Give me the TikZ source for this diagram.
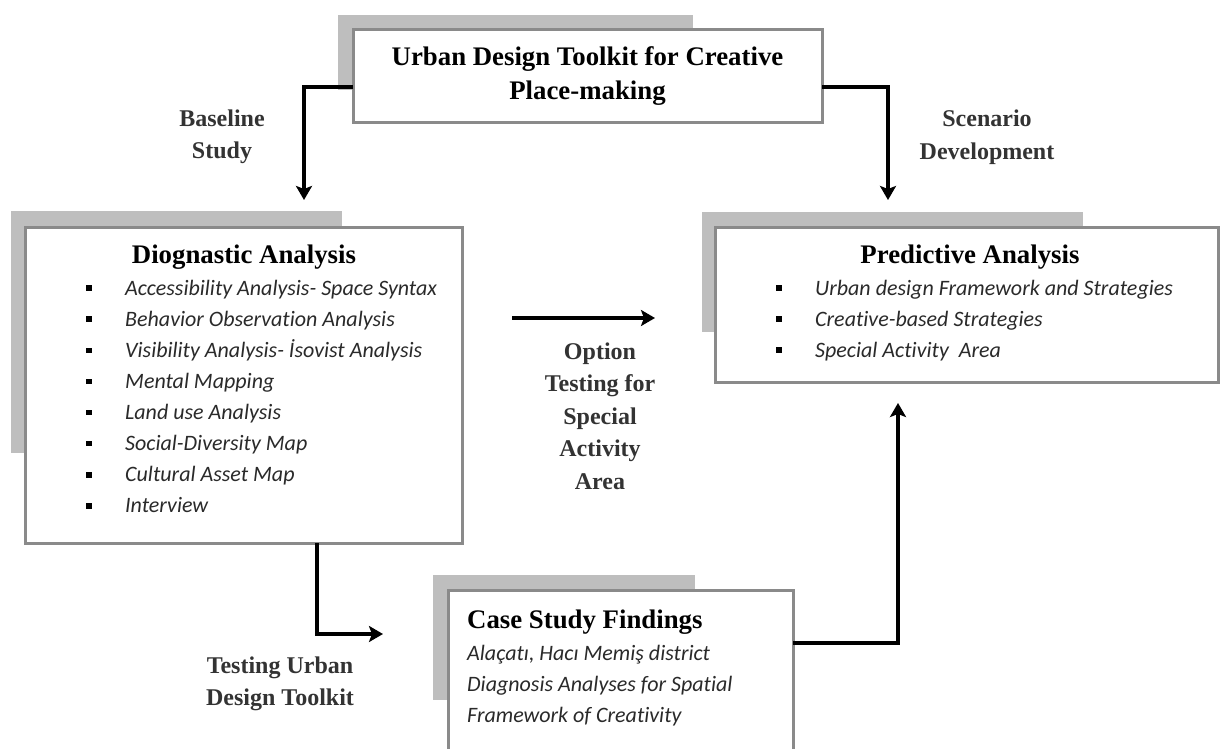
\documentclass[tikz,border=0pt]{standalone}
\usepackage{fontspec}
\setmainfont{Liberation Serif}
\newfontfamily\itemfont[Ligatures={NoCommon,NoContextual,NoRare}]{Carlito}
\usetikzlibrary{arrows.meta}
\definecolor{boxline}{HTML}{8A8A8A}
\definecolor{shade}{HTML}{BEBEBE}
\definecolor{labc}{HTML}{333333}
\definecolor{itemc}{HTML}{2A2A2A}
\begin{document}
\begin{tikzpicture}[x=1pt,y=-1pt,
  box/.style={draw=boxline, line width=3pt, fill=white, inner sep=0pt, outer sep=0pt},
  shadowbox/.style={fill=shade, draw=none, inner sep=0pt, outer sep=0pt},
  ttl/.style={font=\fontsize{26.8}{34}\selectfont\bfseries, text=black, align=center},
  lab/.style={font=\fontsize{24}{32.5}\selectfont\bfseries, text=labc, align=center},
  itm/.style={font=\fontsize{22}{31}\selectfont\itemfont\itshape, text=itemc, anchor=base west, inner sep=0pt},
  bul/.style={fill=black, minimum size=5.5pt, inner sep=0pt, outer sep=0pt},
  arr/.style={-{Stealth[length=14pt,width=16pt,inset=3pt]}, line width=3.2pt, black}]
\useasboundingbox (0,0) rectangle (1221,749);
\clip (0,0) rectangle (1221,749);
\fill[white] (0,0) rectangle (1221,749);

% shadows
\node[shadowbox, minimum width=355pt, minimum height=75pt] (tops) at (515.5,52.5) {};
\node[shadowbox, minimum width=331pt, minimum height=242pt] (diags) at (176.5,332) {};
\node[shadowbox, minimum width=381pt, minimum height=120pt] (preds) at (892.5,272) {};
\node[shadowbox, minimum width=262pt, minimum height=125pt] (cases) at (564,637.5) {};

% main boxes
\node[box, ttl, minimum width=469pt, minimum height=93pt] (top) at (587.5,76.5)
  {Urban Design Toolkit for Creative\\Place-making};
\node[box, minimum width=437pt, minimum height=316pt] (diag) at (243.5,385) {};
\node[box, minimum width=503pt, minimum height=155pt] (pred) at (966.5,304.5) {};
\node[box, minimum width=345pt, minimum height=170pt] (case) at (620.5,675) {};

% diagnostic content
\node[ttl, anchor=base, inner sep=0pt] (dtitle) at (244,263) {Diognastic Analysis};
\foreach \t [count=\i from 0] in {Accessibility Analysis- Space Syntax,
  Behavior Observation Analysis,
  Visibility Analysis- İsovist Analysis,
  Mental Mapping,
  Land use Analysis,
  Social-Diversity Map,
  Cultural Asset Map,
  Interview}{
  \node[bul] (db\i) at (89,{288+31.14*\i}) {};
  \node[itm] (dt\i) at (125,{295+31.14*\i}) {\t};
}

% predictive content
\node[ttl, anchor=base, inner sep=0pt] (ptitle) at (970,263) {Predictive Analysis};
\foreach \t [count=\i from 0] in {Urban design Framework and Strategies,
  Creative-based Strategies,
  Special Activity\ \ Area}{
  \node[bul] (pb\i) at (779,{288+31*\i}) {};
  \node[itm] (pt\i) at (815,{295+31*\i}) {\t};
}

% case study content
\node[ttl, anchor=base west, inner sep=0pt] (ctitle) at (467,628) {Case Study Findings};
\node[itm] (ct0) at (467,660) {Alaçatı, Hacı Memiş district};
\node[itm] (ct1) at (467,691) {Diagnosis Analyses for Spatial};
\node[itm] (ct2) at (467,722) {Framework of Creativity};

% labels
\node[lab] (lbase) at (222,137) {Baseline\\Study};
\node[lab] (lscen) at (987,137) {Scenario\\Development};
\node[lab] (lopt) at (600,416) {Option\\Testing for\\Special\\Activity\\Area};
\node[lab] (ltest) at (280,684) {Testing Urban\\Design Toolkit};

% connectors
\coordinate (tl) at ([yshift=-10.5pt]top.west);
\coordinate (tr) at ([yshift=-10.5pt]top.east);
\draw[arr, shorten >=27pt] (tl) -| ([xshift=60.5pt]diag.north);
\draw[arr, shorten >=27pt] (tr) -| ([xshift=-78.5pt]pred.north);
\coordinate (mida) at ([yshift=67pt]diag.east);
\draw[arr, shorten <=50pt, shorten >=60pt] (mida) -- (mida -| pred.west);
\coordinate (dbot) at ([xshift=73.5pt]diag.south);
\coordinate (cleft) at ([yshift=41pt]case.west);
\draw[arr, shorten >=65pt] (dbot) |- (cleft);
\coordinate (cright) at ([yshift=32pt]case.east);
\draw[arr, shorten >=21pt] (cright) -| ([xshift=-68.5pt]pred.south);
\end{tikzpicture}
\end{document}
